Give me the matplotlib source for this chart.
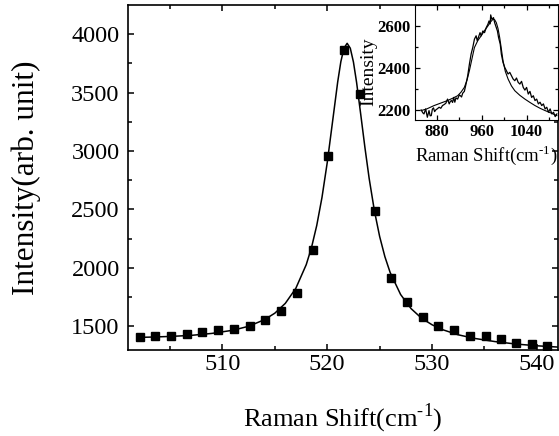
import matplotlib
matplotlib.use('Agg')
from matplotlib import pyplot as plt

plt.rcParams['font.family'] = ['Liberation Serif', 'DejaVu Serif']
plt.rcParams['mathtext.fontset'] = 'custom'
plt.rcParams['mathtext.rm'] = 'Liberation Serif'

# measured points (Si peak)
shift = [502.1, 503.6, 505.1, 506.6, 508.1, 509.6, 511.1, 512.6, 514.1, 515.6,
         517.1, 518.6, 520.1, 521.6, 523.1, 524.6, 526.1, 527.6, 529.1, 530.6,
         532.1, 533.6, 535.1, 536.6, 538.0, 539.5, 541.0]
intensity = [1408, 1414, 1420, 1437, 1449, 1466, 1472, 1503, 1557, 1628,
             1788, 2148, 2955, 3869, 3492, 2487, 1911, 1705, 1580, 1503,
             1466, 1420, 1420, 1389, 1360, 1346, 1329]

# fitted curve
fit_x = [502, 503, 505, 507, 509, 511, 512.5, 514, 515, 516, 517, 518, 518.5,
         519, 519.5, 520, 520.5, 521, 521.3, 521.6, 521.9, 522.2, 522.5, 522.8,
         523.2, 523.6, 524, 524.5, 525, 525.5, 526, 527, 528, 529, 530, 531,
         532.5, 534, 536, 538, 540, 542]
fit_y = [1404, 1406, 1412, 1421, 1438, 1465, 1499, 1555, 1611, 1695, 1823,
         2027, 2173, 2362, 2602, 2900, 3245, 3592, 3765, 3881, 3922, 3880,
         3762, 3588, 3311, 3027, 2765, 2488, 2268, 2095, 1960, 1771, 1650,
         1568, 1512, 1470, 1426, 1396, 1368, 1347, 1332, 1321]

# inset: broad band, raw spectrum and fit
band_x = [852, 855, 857, 860, 863, 866, 868, 870, 872, 874, 876, 878, 881,
          884, 887, 890, 893, 896, 899, 902, 904, 906, 908, 910, 912, 914,
          917, 920, 922, 924, 926, 929, 932, 935, 938, 941, 944, 947, 950,
          952, 954, 957, 959, 962, 965, 968, 971, 973, 975, 976, 978, 981,
          983, 985, 988, 990, 993, 995, 998, 1001, 1004, 1007, 1010, 1013,
          1016, 1019, 1022, 1025, 1028, 1031, 1034, 1037, 1040, 1043, 1046,
          1049, 1052, 1055, 1058, 1061, 1064, 1067, 1070, 1073, 1076, 1079,
          1082, 1085, 1088, 1091, 1094]
band_y = [2200, 2186, 2181, 2205, 2165, 2197, 2172, 2173, 2204, 2210, 2192,
          2200, 2206, 2213, 2208, 2221, 2226, 2232, 2252, 2229, 2241, 2245,
          2236, 2260, 2237, 2258, 2252, 2272, 2268, 2262, 2280, 2289, 2324,
          2364, 2419, 2467, 2499, 2539, 2555, 2531, 2547, 2570, 2555, 2578,
          2570, 2594, 2610, 2626, 2612, 2655, 2634, 2642, 2618, 2602, 2578,
          2547, 2515, 2467, 2427, 2404, 2388, 2372, 2380, 2364, 2348, 2340,
          2353, 2332, 2324, 2337, 2308, 2295, 2308, 2276, 2289, 2260, 2268,
          2245, 2252, 2229, 2237, 2221, 2229, 2205, 2213, 2189, 2205, 2181,
          2189, 2168, 2181]
band_fit_x = [852, 862, 875, 887, 899, 908, 917, 923, 929, 934, 938, 943, 947,
              953, 959, 965, 971, 976, 980, 983, 986, 989, 992, 995, 998, 1002,
              1007, 1013, 1019, 1028, 1037, 1046, 1055, 1064, 1073, 1083, 1094]
band_fit_y = [2197, 2205, 2221, 2233, 2245, 2256, 2268, 2285, 2308, 2345, 2388,
              2450, 2499, 2532, 2555, 2580, 2602, 2622, 2634, 2632, 2618, 2590,
              2547, 2492, 2435, 2385, 2348, 2315, 2292, 2270, 2252, 2236, 2221,
              2208, 2197, 2186, 2173]

xlab = 'Raman Shift(cm$^{\u20101}$)'

fig = plt.figure(figsize=(5.59, 4.36), dpi=100)
ax = fig.add_axes([0.229, 0.197, 0.769, 0.7915])
ax.plot(fit_x, fit_y, color='black', lw=1.1)
ax.plot(shift, intensity, 's', color='black', ms=5.2, mec='black')
ax.set_xlim(501, 542)
ax.set_ylim(1295, 4250)
ax.set_xticks([510, 520, 530, 540])
ax.set_xticks([505, 515, 525, 535], minor=True)
ax.set_yticks([1500, 2000, 2500, 3000, 3500, 4000])
ax.set_yticks([1750, 2250, 2750, 3250, 3750], minor=True)
ax.tick_params(which='both', direction='in', top=True, right=True,
               width=1.1, labelsize=17.5)
ax.tick_params(which='major', length=4.5)
ax.tick_params(which='minor', length=3)
ax.tick_params(axis='x', pad=3)
ax.tick_params(axis='y', pad=6)
for s in ax.spines.values():
    s.set_linewidth(1.2)
ax.set_xlabel(xlab, fontsize=19, labelpad=19)
ax.set_ylabel('Intensity(arb. unit)', fontsize=22.5, labelpad=22)

ins = fig.add_axes([0.7424, 0.7248, 0.2558, 0.2626])
ins.plot(band_x, band_y, color='black', lw=0.9)
ins.plot(band_fit_x, band_fit_y, color='black', lw=0.8)
ins.set_xlim(841, 1096)
ins.set_ylim(2152, 2700)
ins.set_xticks([880, 960, 1040])
ins.set_xticks([920, 1000, 1080], minor=True)
ins.set_yticks([2200, 2400, 2600])
ins.set_yticks([2300, 2500], minor=True)
ins.tick_params(which='both', direction='in', top=True, right=True,
                width=0.9, labelsize=12, pad=3)
ins.tick_params(which='major', length=3.5)
ins.tick_params(which='minor', length=2)
for lab in ins.get_xticklabels() + ins.get_yticklabels():
    lab.set_fontweight('bold')
ins.set_xlabel(xlab, fontsize=13.5, labelpad=2)
ins.set_ylabel('Intensity', fontsize=14, labelpad=0)
ins.yaxis.label.set_y(0.42)

fig.savefig('out.png', dpi=100)
